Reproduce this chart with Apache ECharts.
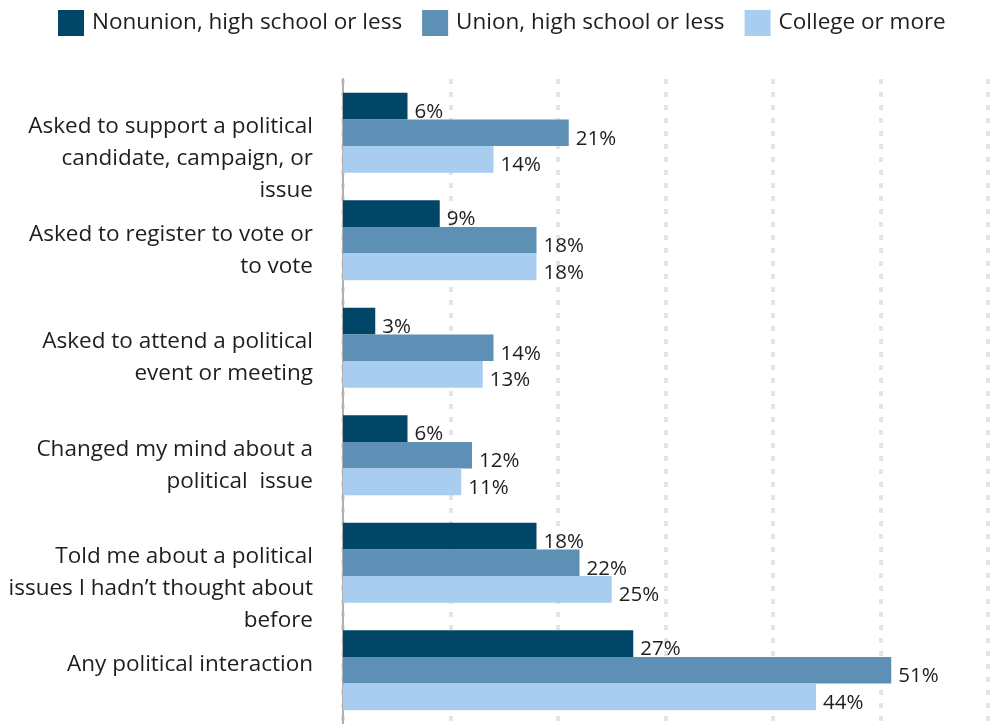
<!DOCTYPE html>
<html>
<head>
<meta charset="utf-8">
<script src="https://cdn.jsdelivr.net/npm/echarts@6/dist/echarts.min.js"></script>
<style>
  html, body { margin: 0; padding: 0; background: #ffffff; }
  #chart { width: 990px; height: 724px; }
</style>
</head>
<body>
<div id="chart"></div>
<script>
// Survey items, top to bottom
const categories = [
  'Asked to support a political\ncandidate, campaign, or\nissue',
  'Asked to register to vote or\nto vote',
  'Asked to attend a political\nevent or meeting',
  'Changed my mind about a\npolitical  issue',
  'Told me about a political\nissues I hadn\u2019t thought about\nbefore',
  'Any political interaction'
];

const seriesNames = ['Nonunion, high school or less', 'Union, high school or less', 'College or more'];

// Share of respondents (%)
const nonunionHS = [6, 9, 3, 6, 18, 27];
const unionHS = [21, 18, 14, 12, 22, 51];
const collegePlus = [14, 18, 13, 11, 25, 44];

const colors = ['#014667', '#5e8fb4', '#a9cdef'];
const FONT = '"Open Sans"';

const chart = echarts.init(document.getElementById('chart'), null, { renderer: 'canvas' });

function makeSeries(name, data, color) {
  return {
    name: name,
    type: 'bar',
    data: data,
    barGap: '0%',
    barCategoryGap: '25.6%',
    itemStyle: { color: color },
    label: {
      show: true,
      position: 'right',
      distance: 7,
      offset: [0, 6],
      formatter: '{c}%',
      color: '#1e1e1e',
      fontFamily: FONT,
      fontSize: 20.5
    },
    emphasis: { disabled: true },
    animation: false
  };
}

chart.setOption({
  animation: false,
  textStyle: { fontFamily: FONT },
  legend: {
    left: 53,
    top: 5,
    itemWidth: 26,
    itemHeight: 26,
    itemGap: 20,
    icon: 'rect',
    textStyle: { fontFamily: FONT, fontSize: 22.5, color: '#1e1e1e', padding: [2, 0, 0, 3] },
    data: seriesNames
  },
  grid: { left: 343, right: 2, top: 79, bottom: 0, containLabel: false },
  xAxis: {
    type: 'value',
    min: 0,
    max: 60,
    interval: 10,
    axisLabel: { show: false },
    axisLine: { show: false },
    axisTick: { show: false },
    splitLine: {
      show: true,
      lineStyle: { color: '#e4e4e4', width: 4, type: [5, 8] }
    }
  },
  yAxis: {
    type: 'category',
    inverse: true,
    data: categories,
    axisTick: { show: false },
    axisLine: { show: true, lineStyle: { color: '#b0b0b0', width: 2 } },
    axisLabel: {
      margin: 30,
      fontFamily: FONT,
      fontSize: 22.5,
      lineHeight: 32,
      color: '#1e1e1e',
      align: 'right',
      verticalAlign: 'top',
      padding: [-22, 0, 0, 0]
    }
  },
  series: [
    makeSeries(seriesNames[0], nonunionHS, colors[0]),
    makeSeries(seriesNames[1], unionHS, colors[1]),
    makeSeries(seriesNames[2], collegePlus, colors[2])
  ]
});
</script>
</body>
</html>
